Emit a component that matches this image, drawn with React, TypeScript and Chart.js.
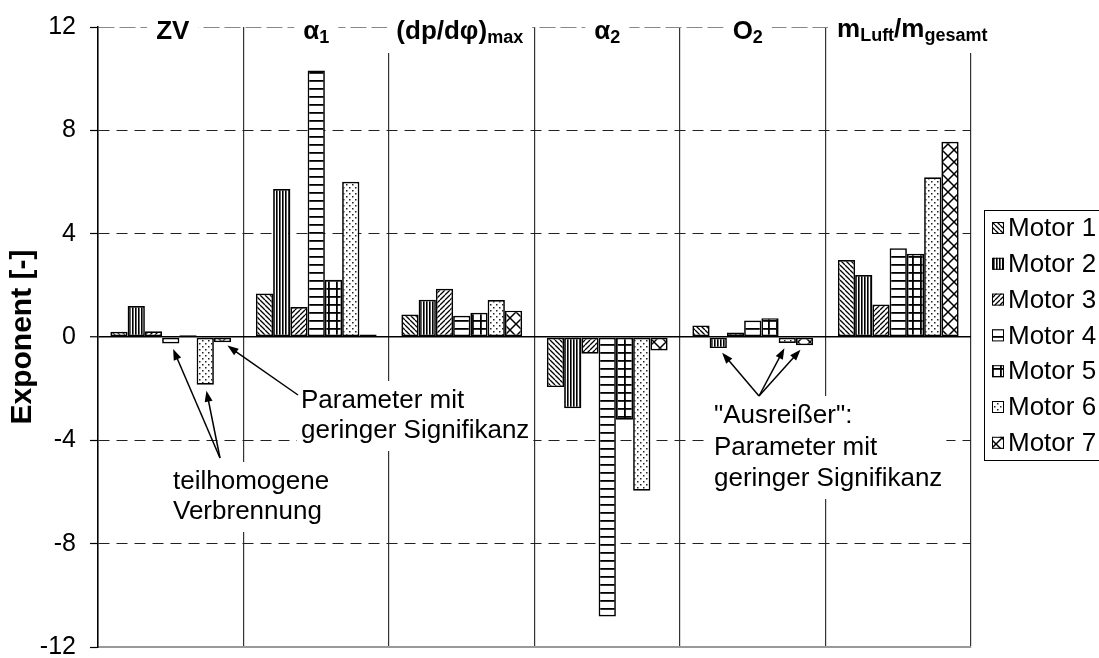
import React, { useEffect, useRef } from 'react';
import { Chart, registerables } from 'chart.js';

Chart.register(...registerables);

const FONT = '"Liberation Sans", Arial, Helvetica, sans-serif';

// ---- data ----
const categories = ['ZV', 'α1', '(dp/dφ)max', 'α2', 'O2', 'mLuft/mgesamt'];
const categoryLabelParts: [string, boolean][][] = [
  [['ZV', false]],
  [['α', false], ['1', true]],
  [['(dp/dφ)', false], ['max', true]],
  [['α', false], ['2', true]],
  [['O', false], ['2', true]],
  [['m', false], ['Luft', true], ['/m', false], ['gesamt', true]],
];
const seriesNames = ['Motor 1', 'Motor 2', 'Motor 3', 'Motor 4', 'Motor 5', 'Motor 6', 'Motor 7'];
const motor1 = [0.2, 1.68, 0.87, -1.94, 0.45, 2.98];
const motor2 = [1.2, 5.73, 1.44, -2.76, -0.43, 2.4];
const motor3 = [0.22, 1.16, 1.87, -0.65, 0.17, 1.26];
const motor4 = [-0.25, 10.32, 0.82, -10.82, 0.64, 3.44];
const motor5 = [0.07, 2.22, 0.94, -3.2, 0.73, 3.22];
const motor6 = [-1.85, 6.01, 1.43, -5.95, -0.23, 6.18];
const motor7 = [-0.2, 0.1, 1.02, -0.52, -0.32, 7.56];
const seriesValues = [motor1, motor2, motor3, motor4, motor5, motor6, motor7];
const yTicks = [-12, -8, -4, 0, 4, 8, 12];
const yTitle = 'Exponent [-]';

const noteHomLines = ['teilhomogene', 'Verbrennung'];
const noteSigLines = ['Parameter mit', 'geringer Signifikanz'];
const noteOutLines = ['"Ausreißer":', 'Parameter mit', 'geringer Signifikanz'];

// ---- patterns ----
function makePattern(kind: number): CanvasPattern | string {
  const c = document.createElement('canvas');
  const sizes = [5, 3, 5, 8, 8, 6, 12];
  const s = sizes[kind];
  c.width = s;
  c.height = s;
  const g = c.getContext('2d')!;
  g.fillStyle = '#fff';
  g.fillRect(0, 0, s, s);
  g.strokeStyle = '#000';
  g.fillStyle = '#000';
  g.lineWidth = 1.3;
  if (kind === 0) {
    g.beginPath();
    for (const k of [-s, 0, s]) { g.moveTo(k, 0); g.lineTo(k + s, s); }
    g.stroke();
  } else if (kind === 1) {
    g.fillRect(0, 0, 1.6, s);
  } else if (kind === 2) {
    g.beginPath();
    for (const k of [-s, 0, s]) { g.moveTo(k, s); g.lineTo(k + s, 0); }
    g.stroke();
  } else if (kind === 3) {
    g.fillRect(0, 0, s, 1.8);
  } else if (kind === 4) {
    g.fillRect(0, 0, s, 1.8);
    g.fillRect(0, 0, 1.8, s);
  } else if (kind === 5) {
    g.fillStyle = '#222';
    g.fillRect(1, 1, 1.5, 1.5);
    g.fillRect(4, 4, 1.5, 1.5);
  } else if (kind === 6) {
    g.lineWidth = 1.5;
    g.beginPath();
    g.moveTo(0, 0); g.lineTo(s, s);
    g.moveTo(s, 0); g.lineTo(0, s);
    g.stroke();
  }
  const p = g.createPattern(c, 'repeat');
  return p || '#fff';
}

function drawArrow(ctx: CanvasRenderingContext2D, x0: number, y0: number, tx: number, ty: number, gap: number) {
  const dx = tx - x0;
  const dy = ty - y0;
  const len = Math.hypot(dx, dy);
  const ux = dx / len;
  const uy = dy / len;
  const px = tx - ux * gap;
  const py = ty - uy * gap;
  const L = 11;
  const W = 4;
  ctx.save();
  ctx.strokeStyle = '#000';
  ctx.fillStyle = '#000';
  ctx.lineWidth = 1.5;
  ctx.beginPath();
  ctx.moveTo(x0, y0);
  ctx.lineTo(px - ux * (L - 2), py - uy * (L - 2));
  ctx.stroke();
  ctx.beginPath();
  ctx.moveTo(px, py);
  ctx.lineTo(px - ux * L - uy * W, py - uy * L + ux * W);
  ctx.lineTo(px - ux * L + uy * W, py - uy * L - ux * W);
  ctx.closePath();
  ctx.fill();
  ctx.restore();
}

export default function App() {
  const ref = useRef<HTMLCanvasElement | null>(null);

  useEffect(() => {
    const canvas = ref.current;
    if (!canvas) return;
    const patterns = seriesNames.map((_, i) => makePattern(i));

    const notes = [
      { lines: noteHomLines, x: 173, y: 489, lh: 30, ax: 220, ay: 458, targets: [[3, 0], [5, 0]] },
      { lines: noteSigLines, x: 301, y: 408, lh: 30, ax: 298, ay: 395, targets: [[6, 0]] },
      { lines: noteOutLines, x: 714, y: 423, lh: 31.5, ax: 759, ay: 396, targets: [[1, 4], [5, 4], [6, 4]] },
    ];
    const labelShift = [2, 0, -2, 0, -5, 14];
    const labelDy = [0, 0, 0, 0, 0, -2];

    const overlay = {
      id: 'overlay',
      afterDatasetsDraw(chart: any) {
        const ctx: CanvasRenderingContext2D = chart.ctx;
        ctx.save();
        ctx.font = `26px ${FONT}`;
        ctx.textBaseline = 'alphabetic';
        ctx.textAlign = 'left';
        notes.forEach((n) => {
          const w = Math.max(...n.lines.map((l) => ctx.measureText(l).width));
          const top = n.y - 27;
          const bottom = n.y + (n.lines.length - 1) * n.lh + 13;
          ctx.fillStyle = '#fff';
          ctx.fillRect(n.x - 4, top, w + 8, bottom - top);
          ctx.fillStyle = '#000';
          n.lines.forEach((l, i) => ctx.fillText(l, n.x, n.y + i * n.lh));
        });
        notes.forEach((n) => {
          n.targets.forEach(([ds, idx]) => {
            const el = chart.getDatasetMeta(ds).data[idx];
            const tx = el.x;
            const ty = Math.max(el.y, el.base);
            drawArrow(ctx, n.ax, n.ay, tx, ty, 6);
          });
        });
        ctx.restore();
      },
      afterDraw(chart: any) {
        const ctx: CanvasRenderingContext2D = chart.ctx;
        const xs = chart.scales.x;
        ctx.save();
        ctx.textBaseline = 'alphabetic';
        ctx.textAlign = 'left';
        const mainF = `bold 26px ${FONT}`;
        const subF = `bold 18px ${FONT}`;
        categoryLabelParts.forEach((parts, i) => {
          const cx = xs.getPixelForValue(i) + labelShift[i];
          let total = 0;
          const widths = parts.map(([t, sub]) => {
            ctx.font = sub ? subF : mainF;
            const w = ctx.measureText(t).width;
            total += w;
            return w;
          });
          const left = cx - total / 2;
          ctx.fillStyle = '#fff';
          ctx.fillRect(left - 9, 8, total + 18, 45);
          ctx.fillStyle = '#000';
          let x = left;
          parts.forEach(([t, sub], j) => {
            ctx.font = sub ? subF : mainF;
            ctx.fillText(t, x, (sub ? 43 : 39) + labelDy[i]);
            x += widths[j];
          });
        });

        // legend
        const lx = 984;
        const ly = 210;
        ctx.fillStyle = '#fff';
        ctx.fillRect(lx, ly, 140, 250);
        ctx.strokeStyle = '#000';
        ctx.lineWidth = 1;
        ctx.strokeRect(lx + 0.5, ly + 0.5, 140, 250);
        ctx.font = `26px ${FONT}`;
        ctx.textBaseline = 'middle';
        seriesNames.forEach((name, i) => {
          const y = 228 + i * 35.8;
          ctx.fillStyle = patterns[i] as any;
          ctx.fillRect(992, y - 6, 12, 12);
          ctx.strokeStyle = '#000';
          ctx.lineWidth = 1;
          ctx.strokeRect(992.5, y - 5.5, 11, 11);
          ctx.fillStyle = '#000';
          ctx.fillText(name, 1008, y + 1);
        });
        ctx.restore();
      },
    };

    const chart = new Chart(canvas, {
      type: 'bar',
      data: {
        labels: categories,
        datasets: seriesValues.map((vals, i) => ({
          label: seriesNames[i],
          data: vals,
          backgroundColor: patterns[i] as any,
          borderColor: '#000',
          borderWidth: 1.7,
          borderSkipped: false,
          categoryPercentage: 0.83,
          barPercentage: 1,
        })),
      },
      options: {
        responsive: false,
        animation: false,
        events: [],
        layout: { padding: { left: 0, right: 128, top: 27, bottom: 11 } },
        plugins: { legend: { display: false }, tooltip: { enabled: false } },
        scales: {
          x: {
            type: 'category',
            offset: true,
            grid: { offset: true, drawTicks: false, color: '#333', lineWidth: 1.2 },
            ticks: { display: false },
            border: { display: true, color: '#999', width: 2 },
            afterFit: (s: any) => { s.height = 0; },
          },
          y: {
            min: -12,
            max: 12,
            afterBuildTicks: (s: any) => { s.ticks = yTicks.map((v) => ({ value: v })); },
            ticks: { font: { size: 25, family: FONT }, color: '#000', padding: 14 },
            grid: {
              color: (c: any) => {
                const v = c.tick ? c.tick.value : null;
                if (v === 0) return '#000';
                if (v === 12) return '#888';
                if (v === -12) return 'rgba(0,0,0,0)';
                return '#222';
              },
              lineWidth: (c: any) => (c.tick && c.tick.value === 0 ? 1.5 : 1),
              tickColor: '#000',
              tickLength: 8,
              tickWidth: 1.2,
            },
            border: {
              display: true,
              color: '#000',
              width: 1.5,
              dash: (c: any) => {
                if (!c.tick) return [];
                const v = c.tick.value;
                if (v === 0 || v === -12) return [];
                if (v === 12) return [16, 5];
                return [11, 7];
              },
            },
            title: {
              display: true,
              text: yTitle,
              color: '#000',
              font: { size: 30, weight: 'bold', family: FONT },
              padding: { top: 5, bottom: 0 },
            },
            afterFit: (s: any) => { s.width = 98; s.paddingTop = 0; s.paddingBottom = 0; },
          },
        },
      } as any,
      plugins: [overlay],
    });
    return () => chart.destroy();
  }, []);

  return (
    <div style={{ position: 'absolute', left: 0, top: 0, width: 1099, height: 658, background: '#fff' }}>
      <canvas ref={ref} width={1099} height={658} style={{ display: 'block' }} />
    </div>
  );
}
